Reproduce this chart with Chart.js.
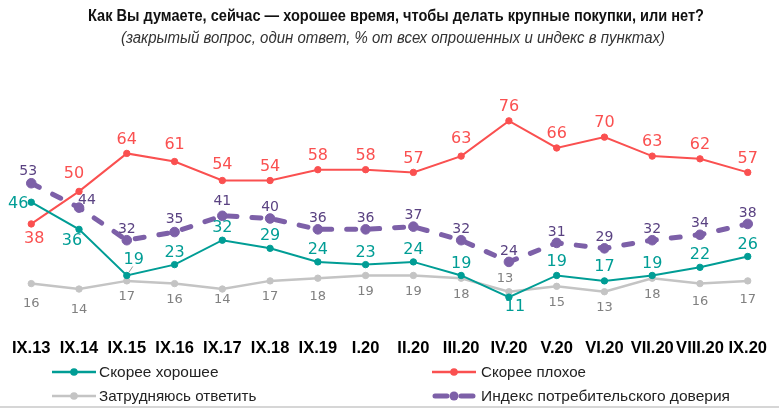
<!DOCTYPE html>
<html><head><meta charset="utf-8">
<script src="https://cdn.jsdelivr.net/npm/chart.js@4/dist/chart.umd.min.js"></script>
<style>
html,body{margin:0;padding:0;background:#fff;}
#wrap{position:relative;width:779px;height:419px;overflow:hidden;font-family:"Liberation Sans",Arial,sans-serif;}
#c{position:absolute;left:0;top:0;}
.fit{position:absolute;white-space:nowrap;transform-origin:0 50%;line-height:20px;}
#title{font-weight:bold;font-size:16px;color:#111;}
#subtitle{font-style:italic;font-size:16px;color:#333;}
.lgtext{font-size:15px;color:#222;}
.lgsample{position:absolute;}
#rule{position:absolute;left:0;top:406px;width:779px;height:2px;background:#d6d6d6;}
</style></head>
<body>
<div id="wrap">
<canvas id="c" width="779" height="419"></canvas>
<div id="title" class="fit">Как Вы думаете, сейчас — хорошее время, чтобы делать крупные покупки, или нет?</div>
<div id="subtitle" class="fit">(закрытый вопрос, один ответ, % от всех опрошенных и индекс в пунктах)</div>
<div id="legend"></div>
<div id="rule"></div>
</div>
<script>
const categories = ['IX.13','IX.14','IX.15','IX.16','IX.17','IX.18','IX.19','I.20','II.20','III.20','IV.20','V.20','VI.20','VII.20','VIII.20','IX.20'];
const good    = [46,36,19,23,32,29,24,23,24,19,11,19,17,19,22,26];
const bad     = [38,50,64,61,54,54,58,58,57,63,76,66,70,63,62,57];
const unsure  = [16,14,17,16,14,17,18,19,19,18,13,15,13,18,16,17];
const index   = [53,44,32,35,41,40,36,36,37,32,24,31,29,32,34,38];
const seriesNames = ['Скорее хорошее','Скорее плохое','Затрудняюсь ответить','Индекс потребительского доверия'];

const TEAL='#009d95', RED='#fa5050', GREY='#c4c4c4', PURPLE='#7d60a8';

// label styling (offsets of label centre relative to point, in px)
const labelCfg = [
  {color:TEAL, font:'16px "DejaVu Sans"', dy:-12, over:{0:[-13,2],1:[-7,11],2:[7,-16],10:[6,10],11:[0,-14],12:[0,-14]}},
  {color:RED, font:'16px "DejaVu Sans"', dy:-14, over:{0:[3,15],1:[-5,-18],3:[0,-17],4:[0,-16],9:[0,-17]}},
  {color:'#808080', font:'13px "DejaVu Sans"', dy:16, over:{0:[0,20],1:[0,21],4:[0,11],6:[0,18],10:[-4,-13],14:[0,18],15:[0,19]}},
  {color:'#5a4282', font:'14px "DejaVu Sans"', dy:-11, over:{0:[-3,-12],1:[8,-7],4:[0,-14],3:[0,-13]}}
];

const labelPlugin = {
  id:'pointLabels',
  afterDatasetsDraw(chart){
    const ctx = chart.ctx;
    ctx.save();
    ctx.textAlign='center';
    ctx.textBaseline='middle';
    chart.data.datasets.forEach((ds,i)=>{
      const meta = chart.getDatasetMeta(i);
      const cfg = labelCfg[i];
      meta.data.forEach((pt,j)=>{
        const o = cfg.over[j] || [0,cfg.dy];
        const lx = pt.x + o[0], ly = pt.y + o[1];
        if(i===0 && j===2){
          ctx.strokeStyle='#9a9a9a'; ctx.lineWidth=1;
          ctx.beginPath(); ctx.moveTo(pt.x+2, pt.y-3); ctx.lineTo(lx-1, ly+7); ctx.stroke();
        }
        ctx.fillStyle=cfg.color;
        ctx.font=cfg.font;
        ctx.fillText(String(ds.data[j]), lx, ly);
      });
    });
    ctx.restore();
  }
};

const chart = new Chart(document.getElementById('c'), {
  type:'line',
  data:{
    labels:categories,
    datasets:[
      {label:seriesNames[0], data:good, borderColor:TEAL, backgroundColor:TEAL, pointBackgroundColor:TEAL, pointBorderColor:TEAL, borderWidth:2, pointBorderWidth:1, pointRadius:3.2, clip:false, tension:0},
      {label:seriesNames[1], data:bad, borderColor:RED, backgroundColor:RED, pointBackgroundColor:RED, pointBorderColor:RED, borderWidth:2, pointBorderWidth:1, pointRadius:3.2, clip:false, tension:0},
      {label:seriesNames[2], data:unsure, borderColor:GREY, backgroundColor:GREY, pointBackgroundColor:GREY, pointBorderColor:GREY, borderWidth:2.5, pointBorderWidth:1, pointRadius:3.2, clip:false, tension:0},
      {label:seriesNames[3], data:index, borderColor:PURPLE, backgroundColor:PURPLE, pointBackgroundColor:PURPLE, pointBorderColor:PURPLE, borderWidth:5, pointBorderWidth:1, borderDash:[9,15], borderCapStyle:'round', pointRadius:4.8, clip:false, tension:0}
    ]
  },
  options:{
    responsive:false, animation:false, devicePixelRatio:1,
    layout:{padding:{top:110,left:28,right:28,bottom:62}},
    plugins:{legend:{display:false}, title:{display:false}, tooltip:{enabled:false}},
    scales:{
      x:{grid:{display:false,drawTicks:false}, border:{display:false},
         ticks:{color:'#000', font:{family:'Liberation Sans', weight:'bold', size:16.5}, padding:12, autoSkip:false, maxRotation:0},
         afterFit(s){ s.height = 30; }},
      y:{display:false, min:0, max:80}
    }
  },
  plugins:[labelPlugin]
});

function fit(el, left, width, cy){
  el.style.transform='none';
  el.style.left = left+'px';
  const r = el.getBoundingClientRect();
  el.style.top = (cy - r.height/2)+'px';
  el.style.transform = 'scaleX('+(width/r.width)+')';
}
fit(document.getElementById('title'), 88, 616, 16);
fit(document.getElementById('subtitle'), 121, 544, 38);

// legend
const legend = document.getElementById('legend');
const lgPos = [
  {sx:52, tx:99, cy:372, w:119.5},
  {sx:432, tx:481, cy:372, w:105},
  {sx:52, tx:99, cy:396, w:157.5},
  {sx:432, tx:481, cy:396, w:249}
];
chart.data.datasets.forEach((ds,i)=>{
  const p = lgPos[i];
  const cv = document.createElement('canvas');
  cv.width=44; cv.height=14; cv.className='lgsample';
  cv.style.left=p.sx+'px'; cv.style.top=(p.cy-7)+'px';
  legend.appendChild(cv);
  const g = cv.getContext('2d');
  g.strokeStyle=ds.borderColor; g.fillStyle=ds.borderColor;
  if(ds.borderDash){
    g.lineWidth=5; g.lineCap='round';
    g.beginPath(); g.moveTo(3,7); g.lineTo(15,7); g.moveTo(29,7); g.lineTo(41,7); g.stroke();
    g.beginPath(); g.arc(22,7,4.5,0,Math.PI*2); g.fill();
  } else {
    g.lineWidth=2.5;
    g.beginPath(); g.moveTo(0,7); g.lineTo(44,7); g.stroke();
    g.beginPath(); g.arc(22,7,3.8,0,Math.PI*2); g.fill();
  }
  const t = document.createElement('div');
  t.className='fit lgtext'; t.textContent=ds.label;
  legend.appendChild(t);
  fit(t, p.tx, p.w, p.cy);
});
</script>
</body></html>
